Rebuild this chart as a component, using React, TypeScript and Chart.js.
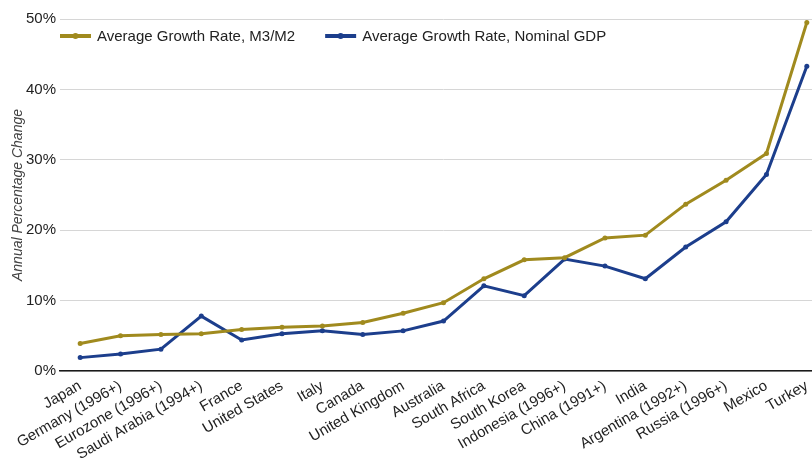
import React, { useEffect, useRef } from "react";
import { Chart, registerables } from "chart.js";

Chart.register(...registerables);

const categories = [
  "Japan",
  "Germany (1996+)",
  "Eurozone (1996+)",
  "Saudi Arabia (1994+)",
  "France",
  "United States",
  "Italy",
  "Canada",
  "United Kingdom",
  "Australia",
  "South Africa",
  "South Korea",
  "Indonesia (1996+)",
  "China (1991+)",
  "India",
  "Argentina (1992+)",
  "Russia (1996+)",
  "Mexico",
  "Turkey",
];
const m3m2Growth = [3.9, 5.0, 5.2, 5.3, 5.9, 6.2, 6.4, 6.9, 8.2, 9.7, 13.1, 15.8, 16.1, 18.9, 19.3, 23.7, 27.1, 30.9, 49.5];
const gdpGrowth = [1.9, 2.4, 3.1, 7.8, 4.4, 5.3, 5.7, 5.2, 5.7, 7.1, 12.1, 10.7, 15.9, 14.9, 13.1, 17.6, 21.2, 27.9, 43.3];
const seriesNames = ["Average Growth Rate, M3/M2", "Average Growth Rate, Nominal GDP"];
const yAxisTitle = "Annual Percentage Change";
const yMin = 0;
const yMax = 50;
const yStep = 10;

const GOLD = "#a08a1e";
const BLUE = "#1c3e8c";
const FONT = "'Liberation Sans', Arial, Helvetica, sans-serif";

const insideLegend = {
  id: "insideLegend",
  afterDraw(chart: any) {
    const ctx = chart.ctx;
    const area = chart.chartArea;
    ctx.save();
    ctx.font = `15px ${FONT}`;
    ctx.textBaseline = "middle";
    ctx.textAlign = "left";
    let x = area.left;
    const y = area.top + 17;
    chart.data.datasets.forEach((ds: any) => {
      ctx.strokeStyle = ds.borderColor;
      ctx.lineWidth = 4;
      ctx.beginPath();
      ctx.moveTo(x, y);
      ctx.lineTo(x + 31, y);
      ctx.stroke();
      ctx.fillStyle = ds.borderColor;
      ctx.beginPath();
      ctx.arc(x + 15.5, y, 3, 0, Math.PI * 2);
      ctx.fill();
      ctx.fillStyle = "#222";
      ctx.fillText(ds.label, x + 37, y + 1);
      x += 37 + ctx.measureText(ds.label).width + 30;
    });
    ctx.restore();
  },
};

export default function App() {
  const ref = useRef<HTMLCanvasElement>(null);
  useEffect(() => {
    if (!ref.current) return;
    const chart = new Chart(ref.current, {
      type: "line",
      data: {
        labels: categories,
        datasets: [
          {
            label: seriesNames[0],
            data: m3m2Growth,
            borderColor: GOLD,
            backgroundColor: GOLD,
            borderWidth: 3,
            pointRadius: 2.5,
            pointBorderWidth: 0,
            pointBackgroundColor: GOLD,
            tension: 0,
          },
          {
            label: seriesNames[1],
            data: gdpGrowth,
            borderColor: BLUE,
            backgroundColor: BLUE,
            borderWidth: 3,
            pointRadius: 2.5,
            pointBorderWidth: 0,
            pointBackgroundColor: BLUE,
            tension: 0,
          },
        ],
      },
      options: {
        responsive: false,
        animation: false,
        layout: { padding: { top: 19, left: 0, right: 0, bottom: 0 } },
        plugins: {
          legend: { display: false },
          tooltip: { enabled: false },
        },
        scales: {
          x: {
            offset: true,
            grid: { display: false, drawTicks: false },
            border: { display: true, color: "#1a1a1a", width: 1.5 },
            ticks: {
              autoSkip: false,
              minRotation: 30,
              maxRotation: 30,
              padding: 6,
              color: "#222",
              font: { family: FONT, size: 15 },
            },
            afterFit: (s: any) => {
              s.height = 92;
            },
          },
          y: {
            min: yMin,
            max: yMax,
            grid: { color: "#d6d6d6", lineWidth: 1, drawTicks: false },
            border: { display: false },
            ticks: {
              stepSize: yStep,
              padding: 4,
              color: "#222",
              font: { family: FONT, size: 15 },
              callback: (v: any) => `${v}%`,
            },
            title: {
              display: true,
              text: yAxisTitle,
              color: "#444",
              font: { family: FONT, size: 14, style: "italic" },
              padding: { top: 10, bottom: 0 },
            },
            afterFit: (s: any) => {
              s.width = 60;
            },
          },
        },
      },
      plugins: [insideLegend],
    });
    return () => chart.destroy();
  }, []);
  return (
    <div
      style={{
        position: "fixed",
        left: 0,
        top: 0,
        width: 812,
        height: 463,
        overflow: "hidden",
        background: "#fff",
      }}
    >
      <canvas ref={ref} width={831} height={463} style={{ display: "block" }} />
    </div>
  );
}
